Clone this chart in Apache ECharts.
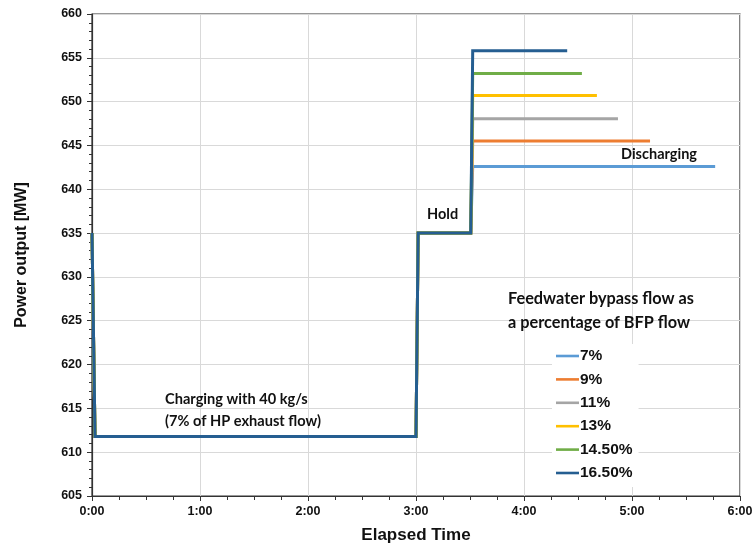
<!DOCTYPE html>
<html>
<head>
<meta charset="utf-8">
<script src="https://cdn.jsdelivr.net/npm/echarts@6/dist/echarts.min.js"></script>
<style>html,body{margin:0;padding:0;background:#fff}#c{width:752px;height:544px}</style>
</head>
<body>
<div id="c"></div>
<script>
// ---- data ----
const seriesNames = ['7%', '9%', '11%', '13%', '14.50%', '16.50%'];
const seriesColors = ['#5B9BD5', '#ED7D31', '#A5A5A5', '#FFC000', '#70AD47', '#255E91'];
// shared charging + hold profile (hours, MW)
const profileTimes = [0, 0.028, 3.0, 3.02, 3.507];
const profileValues = [635, 611.8, 611.8, 635, 635];
// discharging step
const dischargeStart = 3.525;
const dischargeLevels = [642.6, 645.5, 648.05, 650.7, 653.2, 655.8];
const dischargeEnds = [5.77, 5.167, 4.87, 4.675, 4.536, 4.40];
const xTicks = [0, 1, 2, 3, 4, 5, 6];
const yMin = 605, yMax = 660, yStep = 5;

const chart = echarts.init(document.getElementById('c'));
const font = 'Liberation Sans, Arial, sans-serif';
const annFont = 'Lato, Carlito, sans-serif';

const series = seriesNames.map((name, i) => {
  const data = profileTimes.map((t, k) => [t, profileValues[k]]);
  data.push([dischargeStart, dischargeLevels[i]]);
  data.push([dischargeEnds[i], dischargeLevels[i]]);
  return {
    name, type: 'line', data, showSymbol: false, symbol: 'none',
    lineStyle: { color: seriesColors[i], width: 3, join: 'miter' },
    itemStyle: { color: seriesColors[i] },
    z: 2 + i, animation: false
  };
});

chart.setOption({
  animation: false,
  grid: { left: 92, top: 14, width: 648, height: 482, show: true, outerBoundsMode: 'none', containLabel: false,
    borderColor: '#333', borderWidth: 1.2, backgroundColor: 'transparent' },
  xAxis: {
    type: 'value', min: 0, max: 6, interval: 1,
    name: 'Elapsed Time', nameLocation: 'middle', nameGap: 31,
    nameTextStyle: { fontFamily: font, fontWeight: 'bold', fontSize: 17, color: '#111' },
    axisLine: { show: true, lineStyle: { color: '#333', width: 1.2 } },
    axisTick: { show: true, length: 5, lineStyle: { color: '#333' } },
    minorTick: { show: true, splitNumber: 4, length: 4, lineStyle: { color: '#333' } },
    axisLabel: { fontFamily: font, fontWeight: 'bold', fontSize: 12.5, color: '#111', margin: 9,
      formatter: v => xTicks.includes(v) ? v + ':00' : '' },
    splitLine: { show: true, lineStyle: { color: '#d9d9d9', width: 1 } }
  },
  yAxis: {
    type: 'value', min: yMin, max: yMax, interval: yStep,
    name: 'Power output [MW]', nameLocation: 'middle', nameGap: 62,
    nameTextStyle: { fontFamily: font, fontWeight: 'bold', fontSize: 16, color: '#111' },
    axisLine: { show: true, lineStyle: { color: '#333', width: 1.2 } },
    axisTick: { show: true, length: 5, lineStyle: { color: '#333' } },
    minorTick: { show: true, splitNumber: 5, length: 3, lineStyle: { color: '#333' } },
    axisLabel: { fontFamily: font, fontWeight: 'bold', fontSize: 12.5, color: '#111', margin: 10 },
    splitLine: { show: true, lineStyle: { color: '#d9d9d9', width: 1 } }
  },
  legend: {
    orient: 'vertical', left: 552, top: 344,
    data: seriesNames,
    itemWidth: 23, itemHeight: 14, itemGap: 7.4,
    icon: 'path://M0,6 L23,6 L23,8.6 L0,8.6 Z',
    backgroundColor: '#fff', padding: [4, 6, 6, 4],
    textStyle: { fontFamily: font, fontWeight: 'bold', fontSize: 15.5, lineHeight: 14, height: 14, color: '#111', padding: [0, 0, 0, -4] }
  },
  graphic: [
    { type: 'text', left: 508, top: 287, z: 100, style: { text: 'Feedwater bypass flow as\na percentage of BFP flow', fontFamily: annFont, fontWeight: 'bold', fontSize: 16.3, lineHeight: 24, fill: '#111' } },
    { type: 'text', left: 165, top: 388, z: 100, style: { text: 'Charging with 40 kg/s\n(7% of HP exhaust flow)', fontFamily: annFont, fontWeight: 'bold', fontSize: 14.6, lineHeight: 22, fill: '#111' } },
    { type: 'text', left: 427, top: 207, z: 100, style: { text: 'Hold', fontFamily: annFont, fontWeight: 'bold', fontSize: 14.5, fill: '#111' } },
    { type: 'text', left: 621, top: 147, z: 100, style: { text: 'Discharging', fontFamily: annFont, fontWeight: 'bold', fontSize: 14.5, fill: '#111' } }
  ],
  series
});
</script>
</body>
</html>
